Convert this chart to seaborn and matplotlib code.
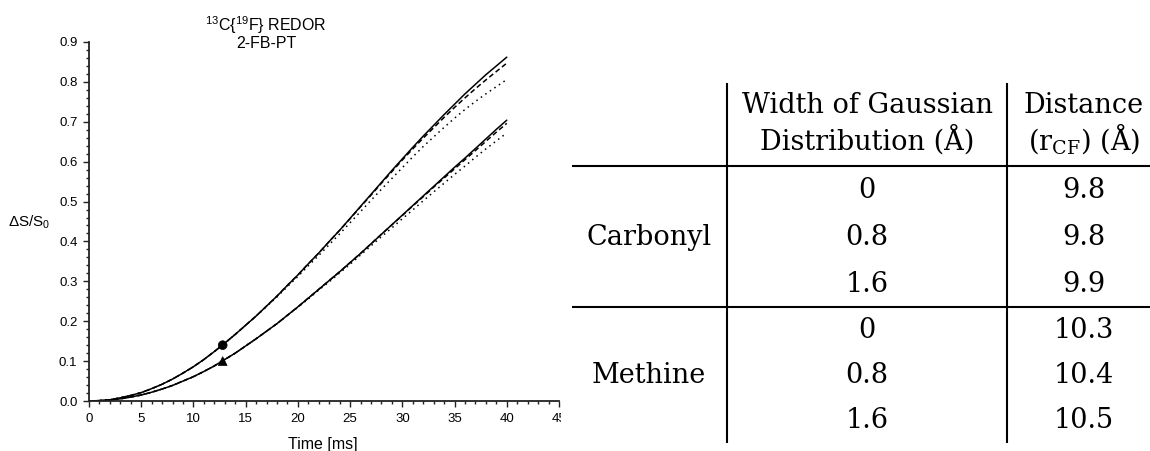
import matplotlib
matplotlib.use("Agg")
import matplotlib.pyplot as plt
import seaborn as sns
import numpy as np
import pandas as pd
from matplotlib.ticker import MultipleLocator
from matplotlib.transforms import Bbox, TransformedBbox

# REDOR dephasing curves (time in ms, dS/S0), one value per ms
time_ms = list(range(0, 41))
carbonyl_w00 = [0, 0.001, 0.003, 0.008, 0.014, 0.021, 0.031, 0.042, 0.055, 0.070, 0.086,
                0.104, 0.124, 0.145, 0.167, 0.190, 0.213, 0.238, 0.263, 0.290, 0.316,
                0.344, 0.371, 0.400, 0.428, 0.458, 0.488, 0.518, 0.548, 0.578, 0.607,
                0.636, 0.664, 0.691, 0.718, 0.744, 0.770, 0.794, 0.818, 0.840, 0.862]
carbonyl_w08 = [0, 0.001, 0.003, 0.008, 0.014, 0.021, 0.031, 0.042, 0.055, 0.070, 0.086,
                0.104, 0.124, 0.145, 0.167, 0.190, 0.213, 0.238, 0.263, 0.290, 0.316,
                0.344, 0.371, 0.400, 0.428, 0.457, 0.487, 0.516, 0.546, 0.575, 0.604,
                0.632, 0.659, 0.685, 0.711, 0.736, 0.760, 0.783, 0.805, 0.826, 0.847]
carbonyl_w16 = [0, 0.001, 0.003, 0.008, 0.014, 0.021, 0.031, 0.042, 0.055, 0.070, 0.086,
                0.104, 0.124, 0.145, 0.167, 0.190, 0.213, 0.237, 0.261, 0.287, 0.312,
                0.339, 0.365, 0.392, 0.419, 0.447, 0.475, 0.503, 0.531, 0.558, 0.585,
                0.612, 0.638, 0.662, 0.686, 0.709, 0.731, 0.751, 0.770, 0.788, 0.806]
methine_w00 = [0, 0.0006, 0.0025, 0.0055, 0.010, 0.015, 0.022, 0.030, 0.039, 0.050, 0.061,
               0.074, 0.088, 0.104, 0.120, 0.138, 0.156, 0.175, 0.194, 0.215, 0.236,
               0.258, 0.280, 0.302, 0.324, 0.347, 0.370, 0.394, 0.418, 0.442, 0.466,
               0.490, 0.514, 0.538, 0.562, 0.586, 0.609, 0.633, 0.657, 0.681, 0.704]
methine_w08 = [0, 0.0006, 0.0025, 0.0055, 0.010, 0.015, 0.022, 0.030, 0.039, 0.050, 0.061,
               0.074, 0.088, 0.104, 0.120, 0.138, 0.156, 0.175, 0.194, 0.215, 0.236,
               0.258, 0.280, 0.302, 0.324, 0.347, 0.370, 0.394, 0.418, 0.4415, 0.465,
               0.489, 0.512, 0.536, 0.559, 0.582, 0.605, 0.628, 0.651, 0.674, 0.696]
methine_w16 = [0, 0.0006, 0.0025, 0.0055, 0.010, 0.015, 0.022, 0.030, 0.039, 0.050, 0.061,
               0.074, 0.088, 0.104, 0.120, 0.138, 0.156, 0.175, 0.194, 0.215, 0.235,
               0.256, 0.278, 0.299, 0.321, 0.343, 0.366, 0.389, 0.412, 0.434, 0.457,
               0.479, 0.502, 0.524, 0.546, 0.568, 0.589, 0.611, 0.632, 0.652, 0.672]

# experimental points
point_time = [12.8, 12.8]
point_value = [0.14, 0.10]
point_group = ["Carbonyl", "Methine"]

x_ticks = [0, 5, 10, 15, 20, 25, 30, 35, 40, 45]
y_ticks = [0.0, 0.1, 0.2, 0.3, 0.4, 0.5, 0.6, 0.7, 0.8, 0.9]

# table
header_width = ["Width of Gaussian", "Distribution (Å)"]
header_dist = ["Distance", r"(r$_\mathregular{CF}$) (Å)"]
table_groups = ["Carbonyl", "Methine"]
gauss_widths = ["0", "0.8", "1.6", "0", "0.8", "1.6"]
distances = ["9.8", "9.8", "9.9", "10.3", "10.4", "10.5"]

series = [("Carbonyl", "0", carbonyl_w00), ("Carbonyl", "0.8", carbonyl_w08),
          ("Carbonyl", "1.6", carbonyl_w16), ("Methine", "0", methine_w00),
          ("Methine", "0.8", methine_w08), ("Methine", "1.6", methine_w16)]
rows = []
for grp, w, vals in series:
    for t, v in zip(time_ms, vals):
        rows.append({"time": t, "ds": v, "group": grp, "width": w})
df = pd.DataFrame(rows)

sns.set_style("ticks")
plt.rcParams["font.family"] = ["Liberation Sans", "DejaVu Sans"]
plt.rcParams["text.color"] = "black"
plt.rcParams["xtick.color"] = "black"
plt.rcParams["ytick.color"] = "black"

W, H = 1150, 451
fig = plt.figure(figsize=(W / 100, H / 100), dpi=100)

def fx(px):
    return px / W

def fy(py):
    return 1 - py / H

ax = fig.add_axes([fx(89), fy(401), fx(559) - fx(89), fy(42) - fy(401)])
sns.lineplot(data=df, x="time", y="ds", hue="group", style="width",
             palette=["black", "black"], style_order=["0", "0.8", "1.6"],
             dashes={"0": "", "0.8": (3.3, 2.0), "1.6": (1.0, 2.6)},
             linewidth=1.1, estimator=None, legend=False, ax=ax)
sns.scatterplot(x=point_time, y=point_value, style=point_group,
                markers={"Carbonyl": "o", "Methine": "^"}, color="black",
                edgecolor="black", s=40, legend=False, ax=ax, zorder=5)

ax.set_xlim(0, 45)
ax.set_ylim(0, 0.9)
ax.set_xticks(x_ticks)
ax.set_yticks(y_ticks)
ax.set_yticklabels([f"{v:.1f}" for v in y_ticks])
ax.xaxis.set_minor_locator(MultipleLocator(1))
ax.yaxis.set_minor_locator(MultipleLocator(0.02))
ax.tick_params(which="major", direction="out", length=4.3, width=1.0,
               labelsize=9.5, pad=4, color="#222222", labelcolor="black")
ax.tick_params(which="minor", direction="out", length=2.3, width=1.0, color="#222222")
ax.set_xlabel("")
ax.set_ylabel("")
sns.despine(ax=ax)
for s in ["left", "bottom"]:
    ax.spines[s].set_linewidth(1.3)
    ax.spines[s].set_color("#222222")

# the right end of the axis is cut off by the table panel
clip = TransformedBbox(Bbox([[0, 0], [fx(561), 1]]), fig.transFigure)
for lab in ax.get_xticklabels():
    lab.set_clip_box(clip)
    lab.set_clip_on(True)

fig.text(fx(266), fy(31), r"$^\mathregular{13}$C{$^\mathregular{19}$F} REDOR",
         ha="center", va="baseline", fontsize=11.5)
fig.text(fx(266), fy(47.5), "2-FB-PT", ha="center", va="baseline", fontsize=11.5)
fig.text(fx(29), fy(226), r"ΔS/S$_\mathregular{0}$", ha="center", va="baseline", fontsize=11)
fig.text(fx(323), fy(449), "Time [ms]", ha="center", va="baseline", fontsize=11.5)

# table panel in pixel coordinates
tax = fig.add_axes([0, 0, 1, 1])
tax.set_xlim(0, W)
tax.set_ylim(H, 0)
tax.axis("off")
tax.hlines([166, 307], 572, W, color="black", lw=1.5)
tax.vlines([727, 1007], 83, 443, color="black", lw=1.5)

tfont = dict(family="DejaVu Serif", fontsize=19.5, ha="center", va="baseline", color="black")
for i, line in enumerate(header_width):
    tax.text(867, 113 + 37 * i, line, **tfont)
for i, line in enumerate(header_dist):
    tax.text(1084, 113 + 37 * i, line, **tfont)
row_base = [198, 245, 292, 337.5, 383, 428.5]
tax.text(649, row_base[1], table_groups[0], **tfont)
tax.text(649, row_base[4], table_groups[1], **tfont)
for yb, w, d in zip(row_base, gauss_widths, distances):
    tax.text(867, yb, w, **tfont)
    tax.text(1084, yb, d, **tfont)

plt.savefig("out.png", dpi=100)
